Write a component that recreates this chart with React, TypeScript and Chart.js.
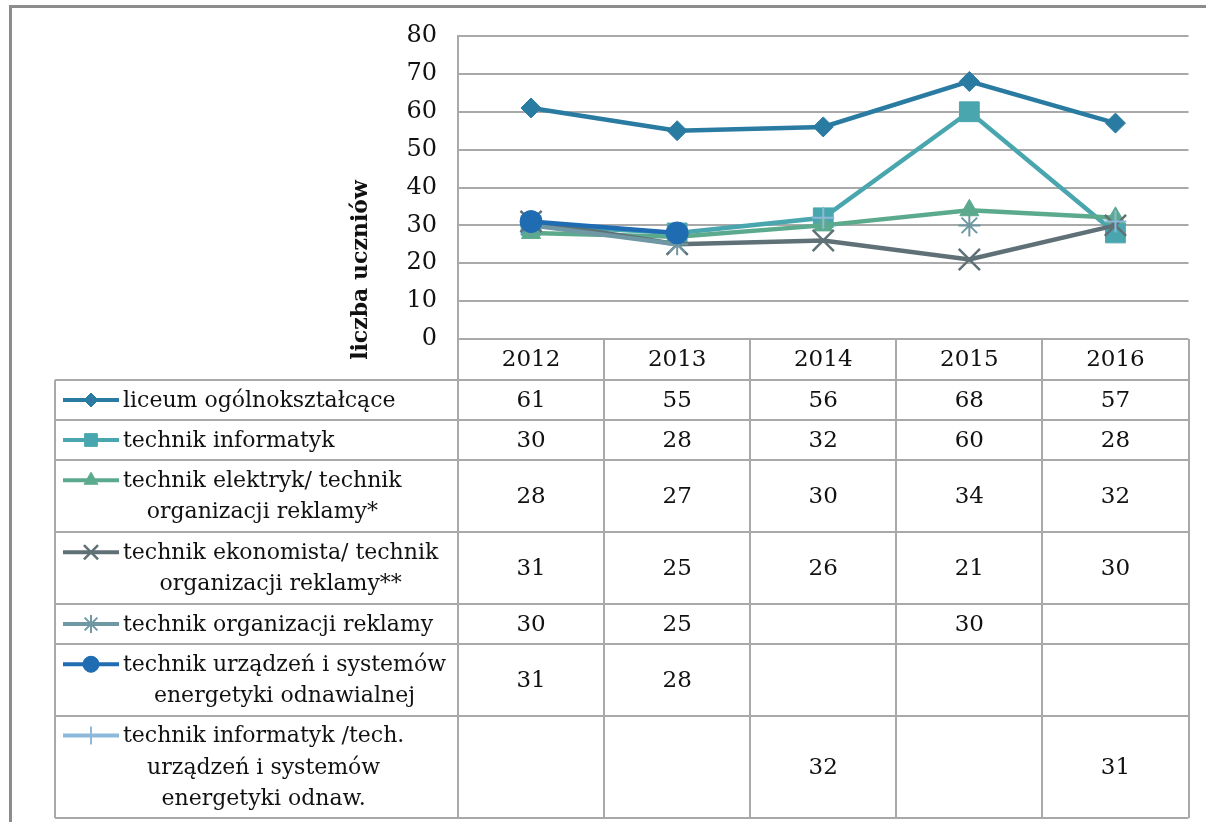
import React, { useEffect, useRef } from 'react';
import { Chart, registerables } from 'chart.js';
import { drawPoint } from 'chart.js/helpers';

Chart.register(...registerables);

// ---------------- data ----------------
const years: string[] = ['2012', '2013', '2014', '2015', '2016'];
const yTickMin = 0;
const yTickMax = 80;
const yTickStep = 10;
const yTitle = 'liczba uczniów';

const seriesLabels: string[][] = [
  ['liceum ogólnokształcące'],
  ['technik informatyk'],
  ['technik elektryk/ technik', 'organizacji reklamy*'],
  ['technik ekonomista/ technik', 'organizacji reklamy**'],
  ['technik organizacji reklamy'],
  ['technik urządzeń i systemów', 'energetyki odnawialnej'],
  ['technik informatyk /tech.', 'urządzeń i systemów', 'energetyki odnaw.'],
];

const liceum: (number | null)[] = [61, 55, 56, 68, 57];
const informatyk: (number | null)[] = [30, 28, 32, 60, 28];
const elektryk: (number | null)[] = [28, 27, 30, 34, 32];
const ekonomista: (number | null)[] = [31, 25, 26, 21, 30];
const reklama: (number | null)[] = [30, 25, null, 30, null];
const oze: (number | null)[] = [31, 28, null, null, null];
const informatykOze: (number | null)[] = [null, null, 32, null, 31];

const seriesValues = [liceum, informatyk, elektryk, ekonomista, reklama, oze, informatykOze];

// ---------------- styles ----------------
const colors = ['#2a7ba2', '#4aa6ae', '#5caa8e', '#5f7176', '#6f98a4', '#1f6cb2', '#8cb9db'];
const pointStyles = ['rectRot', 'rect', 'triangle', 'crossRot', 'star', 'circle', 'cross'];
const pointRadii = [10, 14, 11, 15, 11, 11, 11];
const pointBorders = [1, 1, 1, 2.5, 2, 1, 2];
const legendRadii = [7, 9, 8, 10, 9, 8, 9];
const rowHeights: Record<number, number> = { 1: 40, 2: 72, 3: 102 };

const FONT = '"DejaVu Serif", serif';
const GRID = '#a9a9a9';
const TEXT = '#111111';

const tablePlugin = {
  id: 'dataTable',
  beforeDraw(chart: any) {
    const { ctx, width, height } = chart;
    ctx.save();
    ctx.fillStyle = '#ffffff';
    ctx.fillRect(0, 0, width, height);
    ctx.strokeStyle = '#8c8c8c';
    ctx.lineWidth = 3;
    ctx.beginPath();
    ctx.moveTo(10.5, height);
    ctx.lineTo(10.5, 6.5);
    ctx.lineTo(width, 6.5);
    ctx.stroke();
    ctx.restore();
  },
  afterDraw(chart: any) {
    const { ctx, chartArea } = chart;
    const x = chart.scales.x;
    const n = years.length;
    const colW = (x.right - x.left) / n;
    const tableLeft = 55;
    const right = chartArea.right;
    const lineH = 31.5;
    const headerH = 41;

    ctx.save();
    ctx.strokeStyle = GRID;
    ctx.lineWidth = 2;
    ctx.fillStyle = TEXT;
    ctx.textBaseline = 'middle';
    ctx.textAlign = 'center';
    ctx.font = `23px ${FONT}`;

    let top = chartArea.bottom;
    ctx.beginPath();
    for (let i = 0; i <= n; i++) {
      const cx = Math.round(x.left + i * colW);
      ctx.moveTo(cx, top);
      ctx.lineTo(cx, top + headerH);
    }
    ctx.stroke();
    years.forEach((yr, i) => {
      ctx.fillText(yr, x.getPixelForValue(i), top + headerH / 2 + 1);
    });
    top += headerH;

    seriesLabels.forEach((lines, r) => {
      const h = rowHeights[lines.length];
      ctx.beginPath();
      ctx.moveTo(tableLeft, top);
      ctx.lineTo(right, top);
      ctx.moveTo(tableLeft, top + h);
      ctx.lineTo(right, top + h);
      ctx.moveTo(tableLeft, top);
      ctx.lineTo(tableLeft, top + h);
      for (let i = 0; i <= n; i++) {
        const cx = Math.round(x.left + i * colW);
        ctx.moveTo(cx, top);
        ctx.lineTo(cx, top + h);
      }
      ctx.stroke();

      ctx.font = `23px ${FONT}`;
      ctx.textAlign = 'center';
      ctx.fillStyle = TEXT;
      seriesValues[r].forEach((v, i) => {
        if (v === null || v === undefined) return;
        ctx.fillText(String(v), x.getPixelForValue(i), top + h / 2 + 1);
      });

      ctx.font = `22px ${FONT}`;
      const blockLeft = 123;
      const widths = lines.map((l) => ctx.measureText(l).width);
      const blockW = Math.max(...widths);
      const firstY = top + h / 2 - ((lines.length - 1) * lineH) / 2;
      lines.forEach((l, k) => {
        ctx.textAlign = 'center';
        ctx.fillText(l, blockLeft + blockW / 2, firstY + k * lineH + 1);
      });

      ctx.strokeStyle = colors[r];
      ctx.lineWidth = 4;
      ctx.beginPath();
      ctx.moveTo(63, firstY);
      ctx.lineTo(119, firstY);
      ctx.stroke();
      ctx.fillStyle = colors[r];
      ctx.strokeStyle = colors[r];
      ctx.lineWidth = pointBorders[r];
      drawPoint(ctx, { pointStyle: pointStyles[r], rotation: 0, radius: legendRadii[r], borderWidth: pointBorders[r] } as any, 91, firstY);

      ctx.strokeStyle = GRID;
      ctx.lineWidth = 2;
      ctx.fillStyle = TEXT;
      top += h;
    });

    ctx.save();
    ctx.translate(chartArea.left - 97, chartArea.bottom - 69);
    ctx.rotate(-Math.PI / 2);
    ctx.font = `bold 22px ${FONT}`;
    ctx.textAlign = 'center';
    ctx.textBaseline = 'middle';
    ctx.fillStyle = TEXT;
    ctx.fillText(yTitle, 0, 0);
    ctx.restore();

    ctx.restore();
  },
};

export default function App() {
  const ref = useRef<HTMLCanvasElement | null>(null);

  useEffect(() => {
    if (!ref.current) return;
    const chart = new Chart(ref.current, {
      type: 'line',
      data: {
        labels: years,
        datasets: seriesValues.map((vals, i) => ({
          label: seriesLabels[i].join(' '),
          data: vals,
          borderColor: colors[i],
          backgroundColor: colors[i],
          borderWidth: 4.5,
          pointStyle: pointStyles[i] as any,
          pointRadius: pointRadii[i],
          pointBorderWidth: pointBorders[i],
          pointBackgroundColor: colors[i],
          pointBorderColor: colors[i],
          spanGaps: false,
          tension: 0,
          order: -i,
        })),
      },
      options: {
        animation: false,
        responsive: false,
        maintainAspectRatio: false,
        layout: { padding: { left: 0, top: 36, right: 13, bottom: 483 } },
        plugins: { legend: { display: false }, tooltip: { enabled: false } },
        scales: {
          x: { display: false, offset: true },
          y: {
            min: yTickMin,
            max: yTickMax,
            ticks: {
              stepSize: yTickStep,
              padding: 21,
              color: TEXT,
              font: { family: 'DejaVu Serif', size: 24 },
            },
            grid: { color: GRID, lineWidth: 2, drawTicks: false },
            border: { display: true, color: GRID, width: 2 },
            afterFit: (s: any) => {
              s.width = 458;
            },
          },
        },
      },
      plugins: [tablePlugin],
    });
    return () => chart.destroy();
  }, []);

  return (
    <div style={{ position: 'absolute', left: 0, top: 0, width: 1206, height: 822 }}>
      <canvas ref={ref} width={1206} height={822} style={{ display: 'block' }} />
    </div>
  );
}
